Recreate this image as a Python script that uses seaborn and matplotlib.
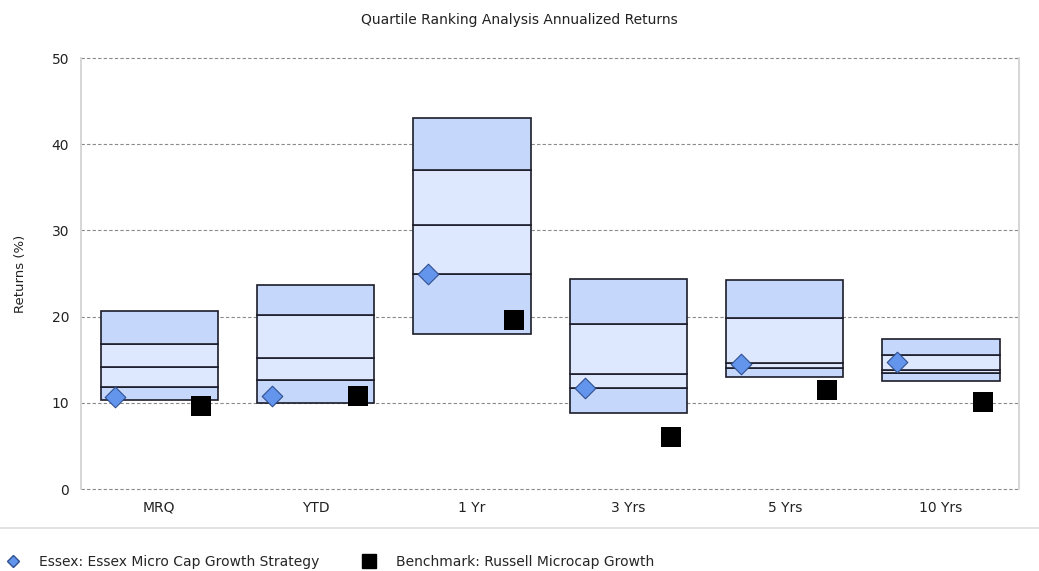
import numpy as np
import pandas as pd
import matplotlib
matplotlib.use("Agg")
import matplotlib.pyplot as plt
import seaborn as sns

##### DATA #####
periods = ["MRQ", "YTD", "1 Yr", "3 Yrs", "5 Yrs", "10 Yrs"]
# quartile boundaries (top of 1st quartile down to bottom of 4th)
pct_05 = [20.65, 23.7, 43.0, 24.35, 24.2, 17.4]
pct_25 = [16.8, 20.15, 37.05, 19.2, 19.8, 15.6]
pct_50 = [14.2, 15.2, 30.6, 13.35, 14.6, 13.8]
pct_75 = [11.8, 12.7, 24.9, 11.7, 14.05, 13.4]
pct_95 = [10.3, 10.0, 17.95, 8.8, 13.05, 12.5]
essex = [10.7, 10.8, 24.9, 11.7, 14.5, 14.7]
benchmark = [9.6, 10.8, 19.6, 6.05, 11.5, 10.1]

essex_name = "Essex: Essex Micro Cap Growth Strategy"
bench_name = "Benchmark: Russell Microcap Growth"

##### SETUP #####
sns.set_style("white")
plt.rcParams['font.family'] = ['DejaVu Sans']

fig = plt.figure(figsize=(10.39, 5.71), dpi=100)
ax = fig.add_axes([0.078, 0.1436, 0.903, 0.7548])

x = np.arange(len(periods))
dark = "#c5d7fb"
light = "#dde7fd"
edge = "#1c1c2a"
width = 0.75

##### QUARTILE BOXES #####
segments = [
    (pct_95, pct_75, dark),
    (pct_75, pct_50, light),
    (pct_50, pct_25, light),
    (pct_25, pct_05, dark),
]
for lo, hi, col in segments:
    lo = np.array(lo)
    hi = np.array(hi)
    ax.bar(x, hi - lo, bottom=lo, width=width, color=col,
           edgecolor=edge, linewidth=1.2, zorder=2)

##### MARKERS #####
df_pts = pd.DataFrame({
    "pos": np.concatenate([x - 0.28, x + 0.27]),
    "value": essex + benchmark,
    "series": [essex_name] * len(x) + [bench_name] * len(x),
})
sns.scatterplot(data=df_pts[df_pts.series == essex_name], x="pos", y="value",
                marker="D", s=110, color="#6495ed", edgecolor="#2f4f8f",
                linewidth=0.8, ax=ax, zorder=3, legend=False)
sns.scatterplot(data=df_pts[df_pts.series == bench_name], x="pos", y="value",
                marker="s", s=200, color="black", edgecolor="black",
                linewidth=0, ax=ax, zorder=3, legend=False)

##### AXES STYLE #####
ax.set_xlim(-0.5, len(periods) - 0.5)
ax.set_ylim(0, 50)
ax.set_yticks([0, 10, 20, 30, 40, 50])
ax.set_xticks(x)
ax.set_xticklabels(periods)
ax.tick_params(axis="both", labelsize=10, colors="#aaaaaa", labelcolor="#222222",
               length=5, width=0.8, direction="out")
for yv in [0, 10, 20, 30, 40, 50]:
    ax.axhline(yv, color="#8a8a8a", linestyle=(0, (3, 2)), linewidth=0.8,
               zorder=1, clip_on=False)
for side in ["top", "bottom"]:
    ax.spines[side].set_visible(False)
for side in ["left", "right"]:
    ax.spines[side].set_color("#d0d0d0")
    ax.spines[side].set_linewidth(1.2)
ax.set_xlabel("")
ax.set_ylabel("Returns (%)", fontsize=9.5, color="#222222", labelpad=18)

fig.suptitle("Quartile Ranking Analysis Annualized Returns", y=0.978,
             fontsize=10, color="#222222")

# separator above legend
fig.add_artist(plt.Line2D([0, 1], [1 - 528 / 571] * 2, color="#dddddd", linewidth=1.2))

handles = [
    plt.Line2D([], [], marker="D", linestyle="", markersize=6,
               markerfacecolor="#6495ed", markeredgecolor="#2f4f8f", label=essex_name),
    plt.Line2D([], [], marker="s", linestyle="", markersize=10,
               markerfacecolor="black", markeredgecolor="black", label=bench_name),
]
fig.legend(handles=handles, loc="lower left", bbox_to_anchor=(-0.008, -0.018),
           ncol=2, frameon=False, fontsize=10, handletextpad=1.3,
           columnspacing=3.0, handlelength=1.2)

fig.savefig("out.png", dpi=100)
